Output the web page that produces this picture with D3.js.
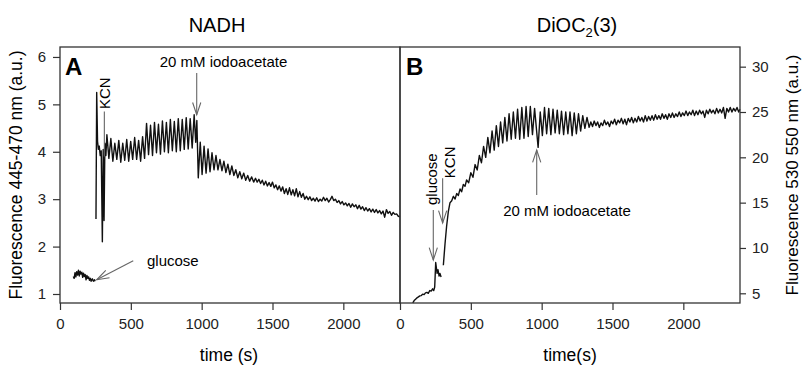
<!DOCTYPE html>
<html>
<head>
<meta charset="utf-8">
<script src="https://cdnjs.cloudflare.com/ajax/libs/d3/7.8.5/d3.min.js"></script>
<style>
  body { margin: 0; background: #fff; }
  svg { font-family: "Liberation Sans", Arial, sans-serif; }
</style>
</head>
<body>
<svg id="chart" width="802" height="366"></svg>
<script>
// Panel A: NADH fluorescence, [time (s), value (a.u.)]
const nadhBaseline = [
  [94, 1.37], [100, 1.33], [106, 1.45], [112, 1.36], [118, 1.47], [124, 1.40], [130, 1.50],
  [136, 1.38], [142, 1.48], [148, 1.42], [154, 1.46], [160, 1.35], [166, 1.44], [172, 1.37],
  [178, 1.41], [184, 1.30], [190, 1.39], [196, 1.33], [202, 1.36], [208, 1.29], [214, 1.33],
  [220, 1.27], [228, 1.32], [236, 1.27], [244, 1.30], [248, 1.27]
];
const nadhTrace = [
  [254, 2.58], [259, 5.25], [265, 4.22], [271, 4.05], [277, 4.12], [284, 3.92], [291, 4.02],
  [299, 2.10], [305, 4.05], [311, 2.55], [317, 4.18], [324, 3.92], [331, 4.36], [345, 3.86],
  [359, 4.28], [373, 3.80], [387, 4.18], [401, 3.84], [415, 4.24], [429, 3.78], [443, 4.18],
  [457, 3.82], [471, 4.26], [485, 3.80], [499, 4.22], [513, 3.84], [527, 4.30], [541, 3.84],
  [555, 4.24], [569, 3.80], [583, 4.32], [597, 3.86], [611, 4.60], [625, 3.94], [639, 4.56],
  [653, 3.92], [667, 4.62], [681, 3.98], [695, 4.58], [709, 3.95], [723, 4.65], [737, 4.00],
  [751, 4.62], [765, 3.98], [779, 4.68], [793, 4.02], [807, 4.64], [821, 4.00], [835, 4.70],
  [849, 4.02], [863, 4.68], [877, 4.05], [891, 4.72], [905, 4.06], [919, 4.70], [933, 4.08],
  [947, 4.78], [958, 4.20], [966, 4.66], [976, 3.45], [990, 4.20], [1003, 3.52], [1017, 4.12],
  [1031, 3.55], [1045, 4.06], [1059, 3.58], [1073, 3.98], [1087, 3.62], [1101, 3.92], [1115, 3.62],
  [1129, 3.84], [1143, 3.60], [1157, 3.80], [1171, 3.56], [1185, 3.74], [1199, 3.52], [1213, 3.70],
  [1227, 3.50], [1241, 3.62], [1255, 3.45], [1269, 3.58], [1283, 3.43], [1297, 3.55], [1311, 3.40],
  [1325, 3.50], [1339, 3.38], [1353, 3.47], [1367, 3.36],
  [1380, 3.44], [1392, 3.36], [1404, 3.42], [1416, 3.33], [1428, 3.40], [1440, 3.30], [1452, 3.38],
  [1464, 3.28], [1476, 3.35], [1488, 3.27], [1500, 3.36], [1512, 3.24], [1524, 3.30], [1536, 3.20],
  [1548, 3.28], [1560, 3.17], [1572, 3.26], [1584, 3.12], [1596, 3.22], [1608, 3.10], [1620, 3.24],
  [1632, 3.09], [1644, 3.20], [1656, 3.07], [1668, 3.22], [1680, 3.05], [1692, 3.16], [1704, 3.04],
  [1716, 3.12], [1728, 3.00], [1740, 3.06], [1752, 2.99], [1764, 3.05], [1776, 2.97], [1788, 3.02],
  [1800, 2.96], [1812, 3.03], [1824, 2.95], [1836, 3.00], [1848, 2.96], [1860, 3.04], [1872, 2.97],
  [1884, 3.02], [1896, 2.94], [1908, 2.99], [1920, 3.06], [1932, 2.97], [1944, 3.00], [1956, 2.93],
  [1968, 2.97], [1980, 2.90], [1992, 2.95], [2004, 2.88], [2016, 2.92], [2028, 2.86], [2040, 2.91],
  [2052, 2.83], [2064, 2.90], [2076, 2.84], [2088, 2.88], [2100, 2.80], [2112, 2.87], [2124, 2.79],
  [2136, 2.84], [2148, 2.76], [2160, 2.82], [2172, 2.75], [2184, 2.80], [2196, 2.73], [2208, 2.79],
  [2220, 2.72], [2232, 2.78], [2244, 2.71], [2256, 2.76], [2268, 2.69], [2280, 2.75], [2292, 2.62],
  [2304, 2.78], [2316, 2.70], [2328, 2.74], [2340, 2.66], [2352, 2.72], [2364, 2.68], [2376, 2.69],
  [2388, 2.64], [2400, 2.63]
];

// Panel B: DiOC2(3) fluorescence, [time (s), value (a.u.)]
const diocBaseline = [
  [90, 3.95], [100, 4.20], [110, 4.35], [120, 4.50], [130, 4.60], [140, 4.72], [150, 4.75],
  [160, 4.90], [170, 4.85], [180, 5.05], [190, 5.10], [200, 5.00], [210, 5.30], [220, 5.25],
  [230, 5.50], [238, 5.30], [245, 5.70], [252, 8.40], [262, 7.20], [268, 7.60], [276, 6.90],
  [282, 7.20], [290, 6.80]
];
const diocTrace = [
  [306, 8.1], [318, 10.5], [329, 12.4], [341, 14.0], [353, 15.0], [365, 15.2], [377, 15.7],
  [389, 15.4], [400, 16.0], [412, 15.8], [424, 16.5], [435, 16.2], [447, 17.0], [459, 16.8],
  [470, 17.5], [485, 17.2], [500, 18.3], [515, 17.8], [530, 19.2], [545, 18.6], [560, 20.2],
  [575, 19.4], [590, 21.2], [605, 20.0], [620, 22.2], [635, 20.5], [650, 22.9], [665, 20.8],
  [680, 23.5], [695, 21.2], [710, 23.9], [725, 21.6], [740, 24.4], [755, 21.8], [770, 24.8],
  [785, 22.0], [800, 25.0], [815, 22.1], [830, 25.3], [845, 22.0], [860, 25.5], [875, 22.1],
  [890, 25.6], [905, 22.3], [920, 25.6], [935, 22.5], [950, 25.4], [965, 22.8], [975, 21.1],
  [990, 25.0], [1005, 22.4], [1020, 25.5], [1035, 22.6], [1050, 25.4], [1065, 22.5], [1080, 25.3],
  [1095, 22.7], [1110, 25.2], [1125, 22.6], [1140, 25.1], [1155, 22.5], [1170, 25.0], [1185, 22.6],
  [1200, 25.0], [1215, 22.4], [1230, 24.9], [1245, 22.6], [1260, 24.8], [1275, 22.9], [1290, 24.6],
  [1305, 23.2], [1320, 24.4], [1335, 23.3],
  [1347, 23.9], [1359, 23.4], [1371, 24.0], [1383, 23.5], [1395, 23.9], [1407, 23.3], [1419, 23.8],
  [1431, 23.5], [1443, 24.1], [1455, 23.6], [1467, 23.9], [1479, 23.4], [1491, 24.0], [1503, 23.7],
  [1515, 24.2], [1527, 23.6], [1539, 24.1], [1551, 23.8], [1563, 24.3], [1575, 23.7], [1587, 24.2],
  [1599, 23.6], [1611, 24.3], [1623, 23.9], [1635, 24.4], [1647, 23.8], [1659, 24.3], [1671, 23.9],
  [1683, 24.5], [1695, 24.0], [1707, 24.4], [1719, 23.9], [1731, 24.6], [1743, 24.0], [1755, 24.5],
  [1767, 24.1], [1779, 24.6], [1791, 24.1], [1803, 24.7], [1815, 24.2], [1827, 24.6], [1839, 24.2],
  [1851, 24.8], [1863, 24.3], [1875, 24.7], [1887, 24.2], [1899, 24.8], [1911, 24.4], [1923, 24.9],
  [1935, 24.4], [1947, 24.8], [1959, 24.5], [1971, 25.0], [1983, 24.5], [1995, 24.9], [2007, 24.6],
  [2019, 25.1], [2031, 24.6], [2043, 25.0], [2055, 24.7], [2067, 25.2], [2079, 24.6], [2091, 25.1],
  [2103, 24.7], [2115, 25.2], [2127, 24.8], [2139, 25.1], [2151, 24.4], [2163, 25.2], [2175, 24.8],
  [2187, 25.3], [2199, 24.9], [2211, 25.2], [2223, 24.8], [2235, 25.4], [2247, 24.9], [2259, 25.3],
  [2271, 24.9], [2283, 25.5], [2295, 24.3], [2307, 25.4], [2319, 25.0], [2331, 25.5], [2343, 25.0],
  [2355, 25.4], [2367, 25.1], [2379, 25.5], [2391, 25.0], [2400, 25.3]
];

const timeTicks = [0, 500, 1000, 1500, 2000];
const nadhTicks = [1, 2, 3, 4, 5, 6];
const diocTicks = [5, 10, 15, 20, 25, 30];

const svg = d3.select('#chart');
const plotTop = 47, plotBottom = 303;
const frameColor = '#333';
const arrowColor = '#666';
const fmt = d3.format('d');

const xA = d3.scaleLinear().domain([0, 2400]).range([60, 400]);
const xB = d3.scaleLinear().domain([0, 2400]).range([400, 740]);
const yA = d3.scaleLinear().domain([0.81, 6.21]).range([plotBottom, plotTop]);
const yB = d3.scaleLinear().domain([3.93, 32.17]).range([plotBottom, plotTop]);

// draws a thin line with an open V head at (x2, y2)
function arrow(x1, y1, x2, y2) {
  const ang = Math.atan2(y2 - y1, x2 - x1);
  const len = 13, spread = 0.32;
  const g = svg.append('g').attr('stroke', arrowColor).attr('stroke-width', 1.1).attr('fill', 'none');
  g.append('line').attr('x1', x1).attr('y1', y1).attr('x2', x2).attr('y2', y2);
  g.append('path').attr('d',
    `M${x2 - len * Math.cos(ang - spread)},${y2 - len * Math.sin(ang - spread)}` +
    `L${x2},${y2}` +
    `L${x2 - len * Math.cos(ang + spread)},${y2 - len * Math.sin(ang + spread)}`);
}

function styleAxis(g) {
  g.select('.domain').remove();
  g.selectAll('.tick line').attr('stroke', frameColor).attr('stroke-width', 1.2);
  g.selectAll('.tick text').attr('font-size', 15).attr('fill', '#222')
    .attr('font-family', '"Liberation Sans", Arial, sans-serif');
}

function drawTrace(x, y, data) {
  const line = d3.line().x(d => x(d[0])).y(d => y(d[1]));
  svg.append('path')
    .datum(data)
    .attr('fill', 'none')
    .attr('stroke', '#111')
    .attr('stroke-width', 1.4)
    .attr('stroke-linejoin', 'round')
    .attr('d', line);
}

// axes
svg.append('g').attr('transform', `translate(0,${plotBottom})`)
  .call(d3.axisBottom(xA).tickValues(timeTicks).tickFormat(fmt).tickSize(7).tickPadding(8))
  .call(styleAxis);
svg.append('g').attr('transform', `translate(0,${plotBottom})`)
  .call(d3.axisBottom(xB).tickValues(timeTicks).tickFormat(fmt).tickSize(7).tickPadding(8))
  .call(styleAxis);
svg.append('g').attr('transform', 'translate(60,0)')
  .call(d3.axisLeft(yA).tickValues(nadhTicks).tickFormat(fmt).tickSize(7).tickPadding(7))
  .call(styleAxis);
svg.append('g').attr('transform', 'translate(740,0)')
  .call(d3.axisRight(yB).tickValues(diocTicks).tickFormat(fmt).tickSize(6).tickPadding(6))
  .call(styleAxis);

// traces
drawTrace(xA, yA, nadhBaseline);
drawTrace(xA, yA, nadhTrace);
drawTrace(xB, yB, diocBaseline);
drawTrace(xB, yB, diocTrace);

// frames
svg.append('rect').attr('x', 60).attr('y', plotTop).attr('width', 340).attr('height', plotBottom - plotTop)
  .attr('fill', 'none').attr('stroke', frameColor).attr('stroke-width', 1.3);
svg.append('rect').attr('x', 400).attr('y', plotTop).attr('width', 340).attr('height', plotBottom - plotTop)
  .attr('fill', 'none').attr('stroke', frameColor).attr('stroke-width', 1.3);

// annotations panel A
svg.append('text').attr('x', xA(35)).attr('y', yA(5.62)).attr('font-size', 24)
  .attr('font-weight', 'bold').text('A');
svg.append('line').attr('x1', xA(313)).attr('x2', xA(313)).attr('y1', yA(4.85)).attr('y2', yA(3.9))
  .attr('stroke', arrowColor).attr('stroke-width', 1.1);
svg.append('text').attr('transform', `translate(${xA(318) + 5},${yA(4.9)}) rotate(-90)`)
  .attr('font-size', 15).text('KCN');
arrow(xA(965), yA(5.66), xA(965), yA(4.78));
svg.append('text').attr('x', xA(1154)).attr('y', yA(5.79)).attr('font-size', 15)
  .attr('text-anchor', 'middle').text('20 mM iodoacetate');
arrow(xA(517), yA(1.70), xA(259), yA(1.30));
svg.append('text').attr('x', xA(614)).attr('y', yA(1.59)).attr('font-size', 15).text('glucose');

// annotations panel B
svg.append('text').attr('x', xB(42)).attr('y', yA(5.62)).attr('font-size', 24)
  .attr('font-weight', 'bold').text('B');
arrow(xB(235), yB(14.2), xB(235), yB(8.67));
svg.append('text').attr('transform', `translate(${xB(233) + 4},${yB(14.74)}) rotate(-90)`)
  .attr('font-size', 15).text('glucose');
arrow(xB(301), yB(17.7), xB(301), yB(12.76));
svg.append('text').attr('transform', `translate(${xB(353) + 5},${yB(17.7)}) rotate(-90)`)
  .attr('font-size', 15).text('KCN');
arrow(xB(965), yB(15.85), xB(965), yB(20.8));
svg.append('text').attr('x', xB(1179)).attr('y', yB(13.5)).attr('font-size', 15)
  .attr('text-anchor', 'middle').text('20 mM iodoacetate');

// titles
svg.append('text').attr('x', 217).attr('y', 32).attr('font-size', 20)
  .attr('text-anchor', 'middle').text('NADH');
const t2 = svg.append('text').attr('x', 577).attr('y', 32).attr('font-size', 20)
  .attr('text-anchor', 'middle');
t2.append('tspan').text('DiOC');
t2.append('tspan').attr('dy', 5).attr('font-size', 13).text('2');
t2.append('tspan').attr('dy', -5).text('(3)');

// axis titles
svg.append('text').attr('x', 229).attr('y', 361).attr('font-size', 17.5)
  .attr('text-anchor', 'middle').text('time (s)');
svg.append('text').attr('x', 570).attr('y', 361).attr('font-size', 17.5)
  .attr('text-anchor', 'middle').text('time(s)');
svg.append('text').attr('transform', 'translate(22,175) rotate(-90)').attr('font-size', 17.5)
  .attr('text-anchor', 'middle').text('Fluorescence 445-470 nm (a.u.)');
svg.append('text').attr('transform', 'translate(798,175) rotate(-90)').attr('font-size', 17)
  .attr('text-anchor', 'middle').text('Fluorescence 530 550 nm (a.u.)');
</script>
</body>
</html>
